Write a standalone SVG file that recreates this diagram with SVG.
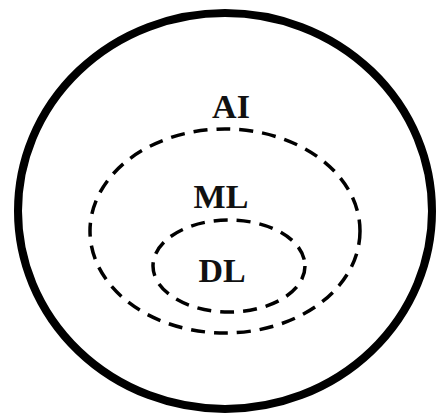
<svg xmlns="http://www.w3.org/2000/svg" width="439" height="415" viewBox="0 0 439 415">
  <style>
    .outer { fill: none; stroke: #000; stroke-width: 8; }
    .dashed { fill: none; stroke: #000; stroke-width: 3.5; stroke-dasharray: 14 9; }
    .label { font-family: "Liberation Serif", "Times New Roman", serif; font-weight: bold; font-size: 34px; fill: #111; text-anchor: middle; }
  </style>
  <rect width="439" height="415" fill="#fff"/>
  <g id="ai">
    <ellipse class="outer" cx="225" cy="211" rx="207" ry="198"/>
    <text class="label" x="231" y="118">AI</text>
  </g>
  <g id="ml">
    <ellipse class="dashed" cx="225" cy="231" rx="135" ry="102"/>
    <text class="label" x="221" y="208">ML</text>
  </g>
  <g id="dl">
    <ellipse class="dashed" cx="229" cy="266" rx="76" ry="46"/>
    <text class="label" x="222" y="282">DL</text>
  </g>
  <g id="connectors"/>
</svg>
